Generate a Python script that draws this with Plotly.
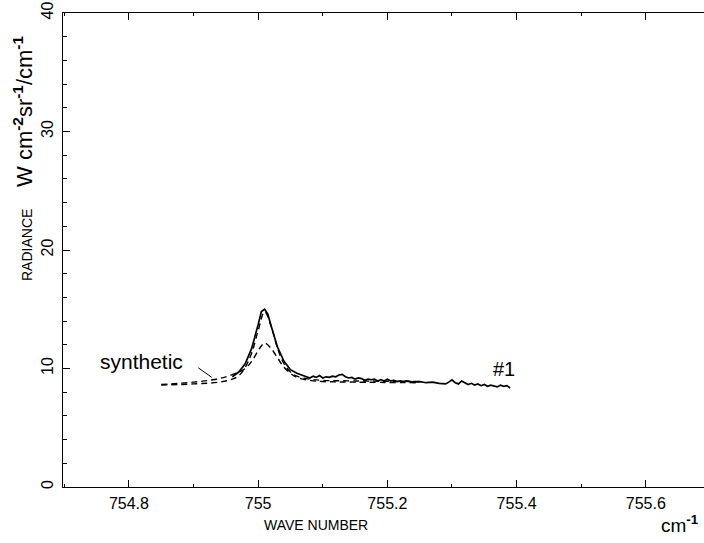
import plotly.graph_objects as go

# Measured spectrum (#1)
meas_x = [754.960, 754.970, 754.980, 754.990, 755.000, 755.005, 755.010, 755.015, 755.020,
          755.030, 755.040, 755.050, 755.060, 755.070, 755.080, 755.085, 755.090, 755.095,
          755.100, 755.105, 755.110, 755.115, 755.120, 755.125, 755.130, 755.135, 755.140,
          755.145, 755.150, 755.155, 755.160, 755.165, 755.170, 755.175, 755.180, 755.185,
          755.190, 755.195, 755.200, 755.205, 755.210, 755.215, 755.220, 755.225, 755.230,
          755.240, 755.250, 755.260, 755.270, 755.280, 755.290, 755.295, 755.300, 755.305,
          755.310, 755.315, 755.320, 755.325, 755.330, 755.335, 755.340, 755.345, 755.350,
          755.355, 755.360, 755.365, 755.370, 755.375, 755.380, 755.385, 755.390]
meas_y = [9.3, 9.7, 10.4, 11.7, 13.7, 14.8, 15.0, 14.6, 13.6,
          11.8, 10.6, 9.9, 9.6, 9.4, 9.2, 9.35, 9.25, 9.4,
          9.2, 9.3, 9.25, 9.35, 9.3, 9.45, 9.5, 9.3, 9.2,
          9.25, 9.1, 9.2, 9.15, 9.0, 9.1, 9.05, 9.1, 8.95,
          9.05, 8.95, 9.1, 8.95, 9.0, 8.9, 8.95, 8.9, 8.95,
          8.85, 8.9, 8.8, 8.85, 8.75, 8.7, 8.85, 9.05, 8.8,
          8.7, 8.95, 8.8, 8.65, 8.75, 8.6, 8.7, 8.55, 8.65,
          8.5, 8.6, 8.55, 8.45, 8.6, 8.5, 8.55, 8.35]

# Synthetic spectrum, strong peak
synA_x = [754.850, 754.900, 754.940, 754.960, 754.970, 754.980, 754.990, 755.000, 755.010,
          755.020, 755.030, 755.040, 755.050, 755.060, 755.080, 755.100, 755.150, 755.250]
synA_y = [8.6, 8.7, 8.85, 9.1, 9.4, 10.1, 11.3, 13.2, 14.8,
          13.6, 11.7, 10.4, 9.7, 9.35, 9.1, 9.0, 8.95, 8.9]

# Synthetic spectrum, weak peak
synB_x = [754.850, 754.900, 754.930, 754.950, 754.970, 754.980, 754.990, 755.000, 755.005,
          755.010, 755.020, 755.030, 755.040, 755.050, 755.060, 755.080, 755.100, 755.150, 755.250]
synB_y = [8.65, 8.85, 9.05, 9.3, 9.7, 10.0, 10.6, 11.5, 11.9,
          12.15, 11.7, 10.9, 10.1, 9.6, 9.25, 9.0, 8.9, 8.85, 8.8]

x_ticks = [754.8, 755.0, 755.2, 755.4, 755.6]
x_labels = ["754.8", "755", "755.2", "755.4", "755.6"]
y_ticks = [0, 10, 20, 30, 40]
y_labels = ["0", "10", "20", "30", "40"]

font = "Liberation Sans"
PL, PR, PT, PB = 63, 704, 13, 487  # plot area pixel bounds

fig = go.Figure()
fig.add_trace(go.Scatter(x=synA_x, y=synA_y, mode="lines", line=dict(color="black", width=1.4, dash="6px,4px"),
                         line_shape="spline", showlegend=False))
fig.add_trace(go.Scatter(x=synB_x, y=synB_y, mode="lines", line=dict(color="black", width=1.4, dash="6px,4px"),
                         line_shape="spline", showlegend=False))
fig.add_trace(go.Scatter(x=meas_x, y=meas_y, mode="lines", line=dict(color="black", width=1.7),
                         showlegend=False))

fig.update_layout(
    width=704, height=543,
    margin=dict(l=PL, r=704 - PR, t=PT, b=543 - PB, autoexpand=False),
    paper_bgcolor="white", plot_bgcolor="white",
    font=dict(family=font, color="black"),
    xaxis=dict(range=[754.698, 755.690], tickvals=x_ticks, ticktext=x_labels, automargin=False,
               showline=True, linecolor="black", linewidth=1.3, mirror="ticks",
               ticks="inside", ticklen=7, tickwidth=1.2, tickcolor="black",
               minor=dict(dtick=0.1, tick0=754.7, ticks="inside", ticklen=3, tickcolor="black"),
               showgrid=False, zeroline=False, tickfont=dict(size=16), ticklabelstandoff=2),
    yaxis=dict(range=[0, 40], tickvals=y_ticks, ticktext=y_labels, automargin=False,
               showline=True, linecolor="black", linewidth=1.3,
               ticks="inside", ticklen=7, tickwidth=1.2, tickcolor="black",
               minor=dict(dtick=2, ticks="inside", ticklen=4, tickcolor="black"),
               showgrid=False, zeroline=False, tickangle=-90, tickfont=dict(size=16),
               ticklabelstandoff=2),
)


def px(x, y):
    return (x - PL) / (PR - PL), (PB - y) / (PB - PT)


for text, x, y, size, angle in [
    ("WAVE NUMBER", 316, 525, 14, 0),
    ("cm<sup><b>-1</b></sup>", 680, 524, 19, 0),
    ("RADIANCE", 27, 245, 14, -90),
    ("W cm<sup><b>-2</b></sup>sr<sup><b>-1</b></sup>/cm<sup><b>-1</b></sup>", 23, 112, 22, -90),
]:
    xp, yp = px(x, y)
    fig.add_annotation(text=text, x=xp, y=yp, xref="paper", yref="paper", showarrow=False,
                       xanchor="center", yanchor="middle",
                       textangle=angle, font=dict(size=size))

fig.add_annotation(x=755.38, y=9.95, text="#1", showarrow=False, font=dict(size=20))
fig.add_annotation(x=754.819, y=10.6, text="synthetic", showarrow=False, font=dict(size=21))
fig.add_annotation(x=754.928, y=9.26, ax=754.905, ay=10.15, axref="x", ayref="y",
                   text="", showarrow=True, arrowhead=0, arrowwidth=1, arrowcolor="black")

fig.write_html("out.html", config={"displayModeBar": False},
               post_script="document.body.style.margin='0';document.body.style.overflow='hidden';")
